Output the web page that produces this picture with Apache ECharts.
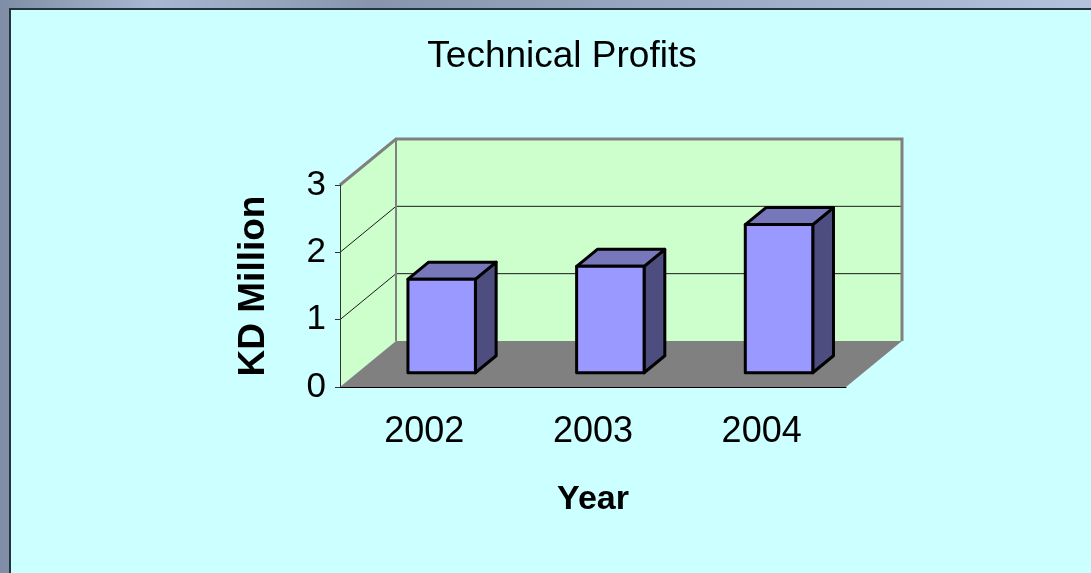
<!DOCTYPE html>
<html>
<head>
<meta charset="UTF-8">
<title>Technical Profits</title>
<script type="text/javascript" src="https://cdn.jsdelivr.net/npm/echarts@6/dist/echarts.min.js"></script>
<style>
	html, body { margin: 0; padding: 0; width: 1091px; height: 573px; overflow: hidden; }
	body { background: linear-gradient(90deg, #7f8ea6 0%, #a9b8d2 14%, #8796ae 34%, #98a8c2 60%, #b2c2df 100%); }
	#bg { position: absolute; left: 9px; top: 8px; right: 0; bottom: 0; background: #ccffff;
		border-left: 2px solid #25343a; border-top: 2px solid #25343a; }
	#main { position: absolute; left: 0; top: 0; width: 1091px; height: 573px; }
</style>
</head>
<body>
	<div id="bg"></div>
	<div id="main"></div>

	<script type="text/javascript">
		// data
		var years = ['2002', '2003', '2004'];
		var profits = [1.39, 1.58, 2.2];
		var yTicks = [0, 1, 2, 3];

		// 3d look: depth vector of the box, and where the bars sit in it
		var DX = 56, DY = -46;
		var F1 = 0.31, F2 = 0.68;
		var FONT = "'Liberation Sans', Arial, sans-serif";

		var myChart = echarts.init(document.getElementById('main'));

		// walls, floor and gridlines of the 3d box
		function renderFrame(params, api) {
			var cs = params.coordSys;
			var x0 = cs.x, x1 = cs.x + cs.width;
			var y0 = api.coord([0, yTicks[0]])[1];
			var yT = api.coord([0, yTicks[yTicks.length - 1]])[1];
			var kids = [];
			// left wall
			kids.push({ type: 'polygon', shape: { points: [[x0, y0], [x0, yT], [x0 + DX, yT + DY], [x0 + DX, y0 + DY]] },
				style: { fill: '#ccffcc' } });
			// back wall
			kids.push({ type: 'rect', shape: { x: x0 + DX, y: yT + DY, width: x1 - x0, height: y0 - yT },
				style: { fill: '#ccffcc' } });
			// floor
			kids.push({ type: 'polygon', shape: { points: [[x0, y0], [x1, y0], [x1 + DX, y0 + DY], [x0 + DX, y0 + DY]] },
				style: { fill: '#808080' } });
			// gridlines
			for (var i = 1; i < yTicks.length - 1; i++) {
				var y = api.coord([0, yTicks[i]])[1];
				kids.push({ type: 'polyline', shape: { points: [[x0, y], [x0 + DX, y + DY], [x1 + DX, y + DY]] },
					style: { stroke: '#1a1a1a', lineWidth: 1, fill: null } });
			}
			// gray outline of the walls
			kids.push({ type: 'polyline', shape: { points: [[x0, yT], [x0 + DX, yT + DY], [x1 + DX, yT + DY], [x1 + DX, y0 + DY]] },
				style: { stroke: '#808080', lineWidth: 3, fill: null, lineJoin: 'miter' } });
			kids.push({ type: 'line', shape: { x1: x0 + DX, y1: yT + DY, x2: x0 + DX, y2: y0 + DY },
				style: { stroke: '#808080', lineWidth: 2 } });
			return { type: 'group', children: kids };
		}

		function renderBar(params, api) {
			var top = api.coord([api.value(0), api.value(1)]);
			var base = api.coord([api.value(0), 0]);
			var band = api.size([1, 0])[0];
			var w = band * 0.4;
			var fx = top[0] - w / 2 + DX * F1;
			var ft = top[1] + DY * F1;
			var fb = base[1] + DY * F1;
			var bx = DX * (F2 - F1), by = DY * (F2 - F1);
			var line = { stroke: '#000', lineWidth: 3, lineJoin: 'round' };
			return {
				type: 'group',
				children: [
					{ type: 'polygon', shape: { points: [[fx + w, ft], [fx + w + bx, ft + by], [fx + w + bx, fb + by], [fx + w, fb]] },
						style: Object.assign({ fill: '#4d4d80' }, line) },
					{ type: 'polygon', shape: { points: [[fx, ft], [fx + w, ft], [fx + w + bx, ft + by], [fx + bx, ft + by]] },
						style: Object.assign({ fill: '#7777bb' }, line) },
					{ type: 'rect', shape: { x: fx, y: ft, width: w, height: fb - ft },
						style: Object.assign({ fill: '#9999ff' }, line) }
				]
			};
		}

		var option = {
			animation: false,
			textStyle: { fontFamily: FONT },
			title: {
				text: 'Technical Profits',
				left: 557,
				top: 34,
				textAlign: 'center',
				textStyle: { fontFamily: FONT, fontSize: 37, fontWeight: 'normal', color: '#000', lineHeight: 36 }
			},
			grid: { left: 340, top: 185, width: 506, height: 202 },
			xAxis: {
				type: 'category',
				data: years,
				name: 'Year',
				nameLocation: 'middle',
				nameGap: 95,
				nameTextStyle: { fontFamily: FONT, fontSize: 34, fontWeight: 'bold', color: '#000', lineHeight: 36 },
				axisLine: { lineStyle: { color: '#000', width: 1 } },
				axisTick: { length: 9, lineStyle: { color: '#000' } },
				axisLabel: { fontFamily: FONT, fontSize: 36, color: '#000', margin: 27, lineHeight: 36 },
				splitLine: { show: false },
				z: 10
			},
			yAxis: {
				type: 'value',
				min: 0,
				max: 3,
				interval: 1,
				name: 'KD Million',
				nameLocation: 'middle',
				nameRotate: 90,
				nameGap: 68,
				nameTextStyle: { fontFamily: FONT, fontSize: 37, fontWeight: 'bold', color: '#000', lineHeight: 36 },
				axisLine: { show: true, lineStyle: { color: '#333', width: 1 } },
				axisTick: { show: true, length: 5, lineStyle: { color: '#333' } },
				axisLabel: { fontFamily: FONT, fontSize: 35, color: '#000', margin: 14 },
				splitLine: { show: false },
				z: 10
			},
			series: [
				{
					type: 'custom',
					name: 'frame',
					silent: true,
					z: 1,
					renderItem: renderFrame,
					data: [[0, 0]]
				},
				{
					type: 'custom',
					name: 'Technical Profits',
					z: 5,
					renderItem: renderBar,
					encode: { x: 0, y: 1 },
					data: profits.map(function (v, i) { return [i, v]; })
				}
			]
		};

		myChart.setOption(option);
	</script>
</body>
</html>
